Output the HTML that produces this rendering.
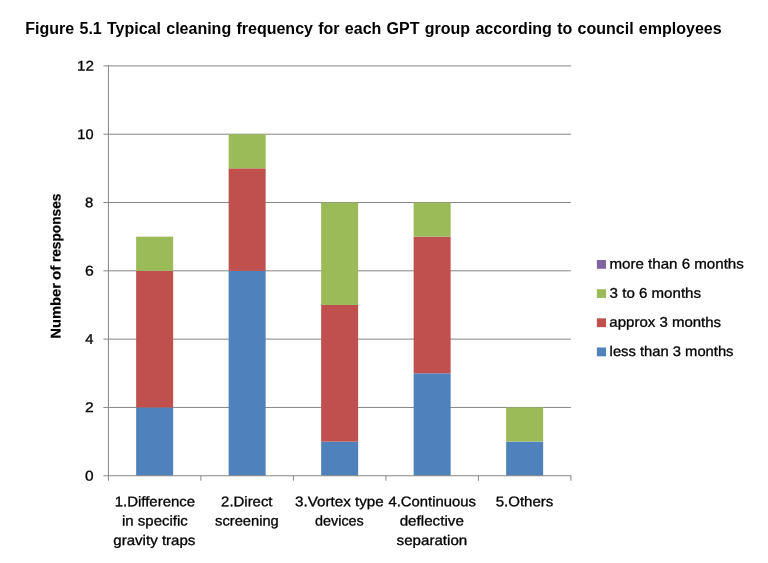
<!DOCTYPE html>
<html lang="en"><head><meta charset="utf-8"><title>Figure 5.1</title>
<style>
html,body{margin:0;padding:0;background:#fff;}
body{width:768px;height:563px;overflow:hidden;}
svg{display:block;}
text{font-family:"Liberation Sans",sans-serif;fill:#000;stroke:#000;stroke-width:0.3px;}
.t{font-size:14px;}
.d{font-size:14px;}
.b{font-size:14px;font-weight:bold;stroke-width:0.2px;}
.h{font-size:16px;font-weight:bold;stroke:none;word-spacing:0.85px;}
</style></head><body>
<svg width="768" height="563" viewBox="0 0 768 563">
<rect width="768" height="563" fill="#fff"/>
<rect x="103.40" y="406.94" width="467.50" height="1" fill="#868686"/>
<rect x="103.40" y="338.63" width="467.50" height="1" fill="#868686"/>
<rect x="103.40" y="270.32" width="467.50" height="1" fill="#868686"/>
<rect x="103.40" y="202.01" width="467.50" height="1" fill="#868686"/>
<rect x="103.40" y="133.70" width="467.50" height="1" fill="#868686"/>
<rect x="103.40" y="65.39" width="467.50" height="1" fill="#868686"/>
<rect x="136.15" y="407.44" width="37.00" height="68.31" fill="#4F81BD"/>
<rect x="136.15" y="270.82" width="37.00" height="136.62" fill="#C0504D"/>
<rect x="136.15" y="236.66" width="37.00" height="34.16" fill="#9BBB59"/>
<rect x="228.65" y="270.82" width="37.00" height="204.93" fill="#4F81BD"/>
<rect x="228.65" y="168.36" width="37.00" height="102.47" fill="#C0504D"/>
<rect x="228.65" y="134.20" width="37.00" height="34.16" fill="#9BBB59"/>
<rect x="321.15" y="441.60" width="37.00" height="34.16" fill="#4F81BD"/>
<rect x="321.15" y="304.98" width="37.00" height="136.62" fill="#C0504D"/>
<rect x="321.15" y="202.51" width="37.00" height="102.47" fill="#9BBB59"/>
<rect x="413.65" y="373.28" width="37.00" height="102.47" fill="#4F81BD"/>
<rect x="413.65" y="236.66" width="37.00" height="136.62" fill="#C0504D"/>
<rect x="413.65" y="202.51" width="37.00" height="34.16" fill="#9BBB59"/>
<rect x="506.15" y="441.60" width="37.00" height="34.16" fill="#4F81BD"/>
<rect x="506.15" y="407.44" width="37.00" height="34.16" fill="#9BBB59"/>
<rect x="107.90" y="65.39" width="1" height="415.36" fill="#868686"/>
<rect x="103.40" y="475.25" width="468.00" height="1" fill="#868686"/>
<rect x="200.40" y="475.75" width="1" height="5" fill="#868686"/>
<rect x="292.90" y="475.75" width="1" height="5" fill="#868686"/>
<rect x="385.40" y="475.75" width="1" height="5" fill="#868686"/>
<rect x="477.90" y="475.75" width="1" height="5" fill="#868686"/>
<rect x="570.40" y="475.75" width="1" height="5" fill="#868686"/>
<rect x="596.9" y="260.00" width="9.1" height="8.8" fill="#8064A2"/>
<rect x="596.9" y="289.17" width="9.1" height="8.8" fill="#9BBB59"/>
<rect x="596.9" y="318.34" width="9.1" height="8.8" fill="#C0504D"/>
<rect x="596.9" y="347.51" width="9.1" height="8.8" fill="#4F81BD"/>
<text id="y0" class="d" transform="rotate(0.03 85.09 480.45)" x="85.09" y="480.45" textLength="8.60" lengthAdjust="spacingAndGlyphs">0</text>
<text id="y2" class="d" transform="rotate(0.03 85.08 412.14)" x="85.08" y="412.14" textLength="8.75" lengthAdjust="spacingAndGlyphs">2</text>
<text id="y4" class="d" transform="rotate(0.03 85.35 343.83)" x="85.35" y="343.83" textLength="8.22" lengthAdjust="spacingAndGlyphs">4</text>
<text id="y6" class="d" transform="rotate(0.03 84.93 275.52)" x="84.93" y="275.52" textLength="8.82" lengthAdjust="spacingAndGlyphs">6</text>
<text id="y8" class="d" transform="rotate(0.03 85.09 207.21)" x="85.09" y="207.21" textLength="8.30" lengthAdjust="spacingAndGlyphs">8</text>
<text id="y10" class="d" transform="rotate(0.03 77.39 138.90)" x="77.39" y="138.90" textLength="16.21" lengthAdjust="spacingAndGlyphs">10</text>
<text id="y12" class="d" transform="rotate(0.03 77.08 70.59)" x="77.08" y="70.59" textLength="16.91" lengthAdjust="spacingAndGlyphs">12</text>
<text id="x0_0" class="t" transform="rotate(0.03 114.66 506.20)" x="114.66" y="506.20" textLength="80.47" lengthAdjust="spacingAndGlyphs">1.Difference</text>
<text id="x0_1" class="t" transform="rotate(0.03 122.00 525.60)" x="122.00" y="525.60" textLength="65.75" lengthAdjust="spacingAndGlyphs">in specific</text>
<text id="x0_2" class="t" transform="rotate(0.03 113.27 545.00)" x="113.27" y="545.00" textLength="82.15" lengthAdjust="spacingAndGlyphs">gravity traps</text>
<text id="x1_0" class="t" transform="rotate(0.03 221.13 506.20)" x="221.13" y="506.20" textLength="51.36" lengthAdjust="spacingAndGlyphs">2.Direct</text>
<text id="x1_1" class="t" transform="rotate(0.03 215.10 525.60)" x="215.10" y="525.60" textLength="63.65" lengthAdjust="spacingAndGlyphs">screening</text>
<text id="x2_0" class="t" transform="rotate(0.03 295.03 506.20)" x="295.03" y="506.20" textLength="88.65" lengthAdjust="spacingAndGlyphs">3.Vortex type</text>
<text id="x2_1" class="t" transform="rotate(0.03 315.01 525.60)" x="315.01" y="525.60" textLength="48.81" lengthAdjust="spacingAndGlyphs">devices</text>
<text id="x3_0" class="t" transform="rotate(0.03 388.42 506.20)" x="388.42" y="506.20" textLength="87.50" lengthAdjust="spacingAndGlyphs">4.Continuous</text>
<text id="x3_1" class="t" transform="rotate(0.03 399.67 525.60)" x="399.67" y="525.60" textLength="64.21" lengthAdjust="spacingAndGlyphs">deflective</text>
<text id="x3_2" class="t" transform="rotate(0.03 396.62 545.00)" x="396.62" y="545.00" textLength="70.65" lengthAdjust="spacingAndGlyphs">separation</text>
<text id="x4_0" class="t" transform="rotate(0.03 495.70 506.20)" x="495.70" y="506.20" textLength="57.66" lengthAdjust="spacingAndGlyphs">5.Others</text>
<text id="l0" class="t" transform="rotate(0.03 609.44 268.50)" x="609.44" y="268.50" textLength="134.39" lengthAdjust="spacingAndGlyphs">more than 6 months</text>
<text id="l1" class="t" transform="rotate(0.03 609.62 297.67)" x="609.62" y="297.67" textLength="91.40" lengthAdjust="spacingAndGlyphs">3 to 6 months</text>
<text id="l2" class="t" transform="rotate(0.03 609.38 326.84)" x="609.38" y="326.84" textLength="111.75" lengthAdjust="spacingAndGlyphs">approx 3 months</text>
<text id="l3" class="t" transform="rotate(0.03 609.61 356.01)" x="609.61" y="356.01" textLength="123.88" lengthAdjust="spacingAndGlyphs">less than 3 months</text>
<text id="yt0" class="b" transform="translate(60.5,338.67) rotate(-89.97)" textLength="55.73" lengthAdjust="spacingAndGlyphs">Number</text>
<text id="yt1" class="b" transform="translate(60.5,280.01) rotate(-89.97)" textLength="14.44" lengthAdjust="spacingAndGlyphs">of</text>
<text id="yt2" class="b" transform="translate(60.5,262.09) rotate(-89.97)" textLength="68.57" lengthAdjust="spacingAndGlyphs">responses</text>
<text class="h" x="25.3" y="33.6">Figure 5.1 Typical cleaning frequency for each GPT group according to council employees</text>
</svg>
</body></html>
